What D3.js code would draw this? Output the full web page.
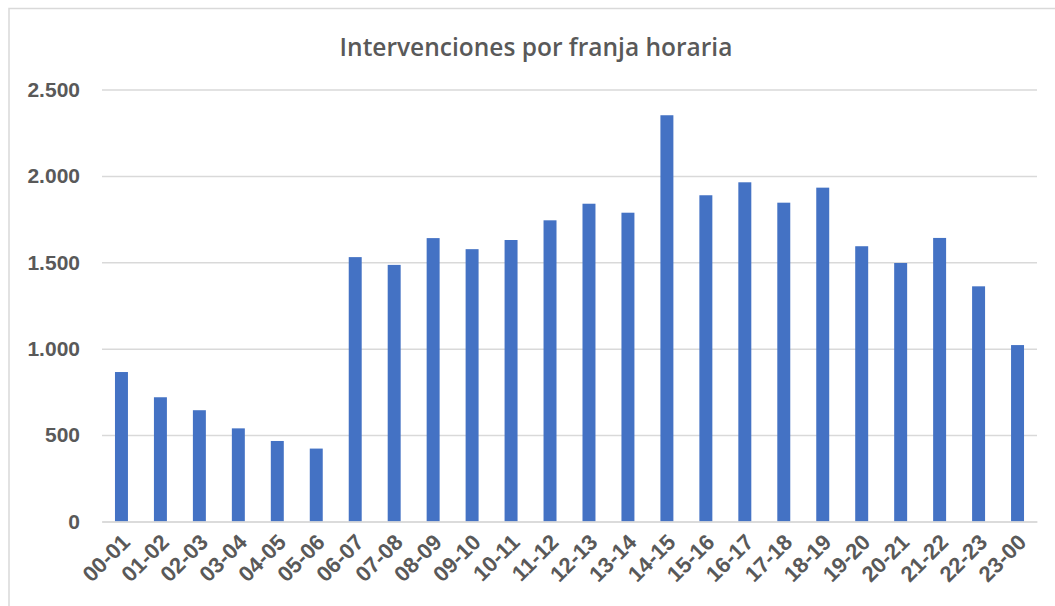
<!DOCTYPE html>
<html>
<head>
<meta charset="utf-8">
<script src="https://cdn.jsdelivr.net/npm/d3@7"></script>
<style>
  body { margin: 0; background: #fff; }
  svg { display: block; font-family: "Liberation Sans", Arial, sans-serif; }
</style>
</head>
<body>
<div id="chart"></div>
<script>
// data
var franjas = ["00-01", "01-02", "02-03", "03-04", "04-05", "05-06", "06-07", "07-08",
  "08-09", "09-10", "10-11", "11-12", "12-13", "13-14", "14-15", "15-16",
  "16-17", "17-18", "18-19", "19-20", "20-21", "21-22", "22-23", "23-00"];
var intervenciones = [865, 719, 644, 539, 466, 422, 1530, 1485, 1640, 1576, 1629, 1743,
  1839, 1787, 2351, 1888, 1963, 1845, 1932, 1593, 1496, 1641, 1361, 1021];
var yTicks = [0, 500, 1000, 1500, 2000, 2500];
var titulo = "Intervenciones por franja horaria";

var W = 1055, H = 606;
var margin = { top: 89.5, right: 18, bottom: 84.5, left: 102 };
var width = W - margin.left - margin.right,
  height = H - margin.top - margin.bottom;

var es = d3.formatLocale({ decimal: ",", thousands: ".", grouping: [3], currency: ["", " €"] });
var fmt = es.format(",d");

var svg = d3.select("#chart").append("svg")
  .attr("width", W)
  .attr("height", H);

// outer chart frame (only left and top edges are visible in the shot)
svg.append("rect")
  .attr("x", 9).attr("y", 8.5)
  .attr("width", W + 20).attr("height", H + 20)
  .attr("fill", "none")
  .attr("stroke", "#d9d9d9")
  .attr("stroke-width", 1.5);

svg.append("text")
  .attr("x", 536)
  .attr("y", 56)
  .attr("text-anchor", "middle")
  .style("font-family", "'Open Sans', sans-serif")
  .style("font-weight", 600)
  .style("font-size", "24.5px")
  .style("fill", "#595959")
  .text(titulo);

var g = svg.append("g")
  .attr("transform", "translate(" + margin.left + "," + margin.top + ")");

var x = d3.scaleBand()
  .domain(franjas)
  .range([0, width])
  .paddingInner(0.667)
  .paddingOuter(0.333);

var y = d3.scaleLinear()
  .domain([0, 2500])
  .range([height, 0]);

// gridlines + y labels
var yAxis = g.append("g")
  .call(d3.axisLeft(y).tickValues(yTicks).tickFormat(fmt).tickSize(-width).tickPadding(22));
yAxis.select(".domain").remove();
yAxis.selectAll(".tick line").attr("stroke", "#d9d9d9").attr("stroke-width", 1.5);
yAxis.selectAll(".tick text")
  .style("font-size", "21px")
  .style("font-weight", "bold")
  .style("fill", "#595959");

// bars
g.append("g")
  .selectAll("rect")
  .data(intervenciones)
  .enter()
  .append("rect")
  .attr("x", function (d, i) { return x(franjas[i]); })
  .attr("y", function (d) { return y(d); })
  .attr("width", x.bandwidth())
  .attr("height", function (d) { return height - y(d); })
  .style("fill", "#4472c4");

// x labels, rotated
var xAxis = g.append("g")
  .attr("transform", "translate(0," + height + ")")
  .call(d3.axisBottom(x).tickSize(0).tickPadding(0));
xAxis.select(".domain").attr("stroke", "#d9d9d9").attr("stroke-width", 1.5);
xAxis.selectAll(".tick text")
  .attr("text-anchor", "end")
  .attr("dy", 0)
  .attr("transform", "translate(10,22) rotate(-45)")
  .style("font-size", "22px")
  .style("font-weight", "bold")
  .style("fill", "#595959");
</script>
</body>
</html>
